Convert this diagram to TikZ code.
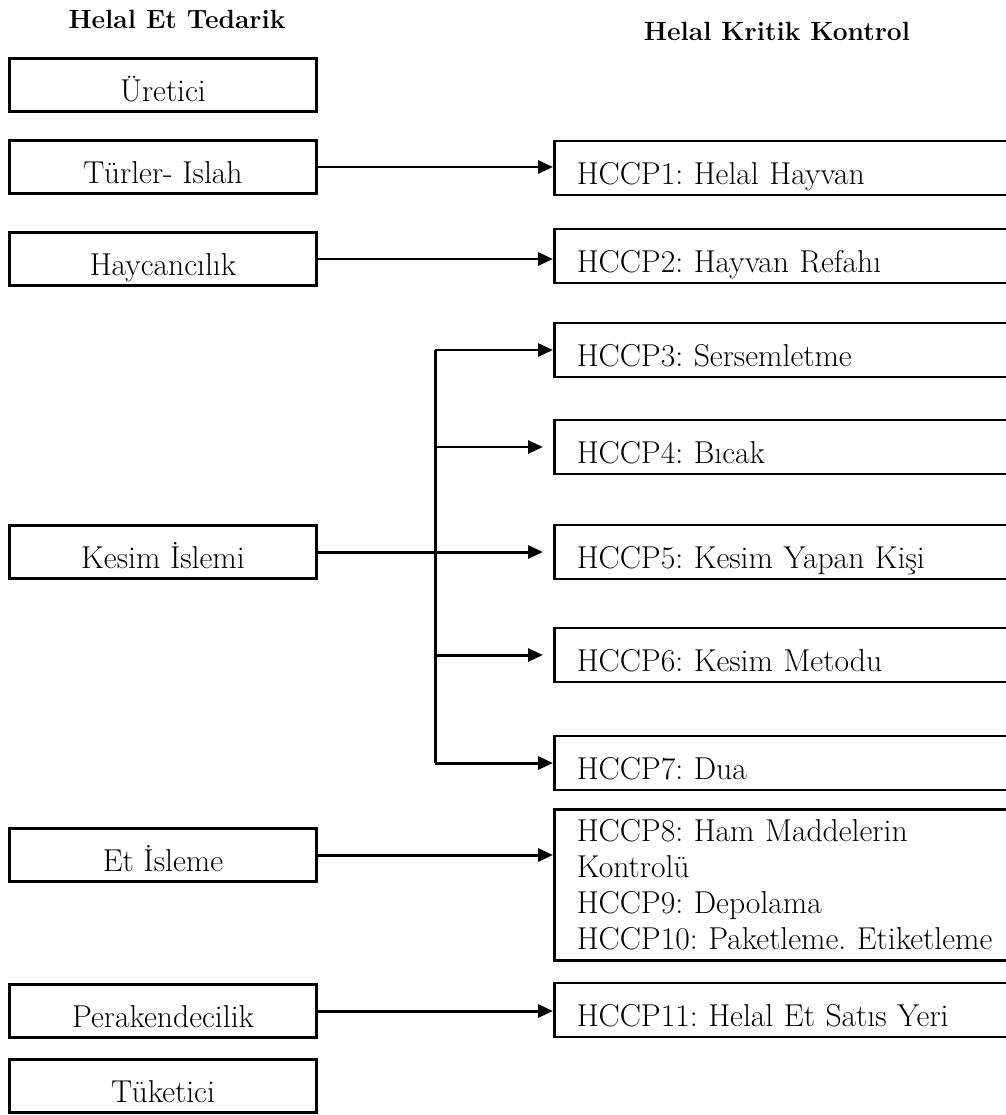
\documentclass[tikz,border=0pt]{standalone}
\usetikzlibrary{arrows.meta,positioning}
\begin{document}
\frenchspacing
\begin{tikzpicture}[x=0.02cm,y=-0.02cm,>={Triangle[length=0.3cm,width=0.26cm]},font=\fontsize{18}{20.5}\selectfont]
\tikzstyle{lb}=[draw,line width=1.5pt,minimum width=6.14cm,minimum height=1.07cm,inner sep=0pt]
\tikzstyle{rb}=[draw,line width=1.5pt,anchor=west,minimum width=10cm,minimum height=1.08cm,text width=9.1cm,align=left,inner xsep=0.44cm]
\tikzstyle{low}=[text height=19pt,text depth=0pt]
\tikzstyle{ar}=[->,line width=1.7pt]
\clip (0,0) rectangle (1006,1115);
% titles
\node[font=\fontsize{15}{18}\selectfont\bfseries] (ttl) at (177,19) {Helal Et Tedarik};
\node[font=\fontsize{15}{18}\selectfont\bfseries] (ttr) at (777,31) {Helal Kritik Kontrol};
% supply chain
\foreach \n/\y/\t in {uret/85/Üretici,turler/167/Türler- Islah,hayv/259/Haycancılık,kesim/552/Kesim İslemi,etis/855/Et İsleme,perak/1011/Perakendecilik,tuket/1086/Tüketici}
  \node[lb,low] (\n) at (163,\y) {\t};
% control points
\foreach \n/\y/\t in {h1/168/HCCP1: Helal Hayvan,h2/256/HCCP2: Hayvan Refahı,h3/350/HCCP3: Sersemletme,h4/447/HCCP4: Bıcak,h5/552/HCCP5: Kesim Yapan Kişi,h6/655/HCCP6: Kesim Metodu,h7/763/HCCP7: Dua,h11/1010/HCCP11: Helal Et Satıs Yeri}
  \node[rb,low] (\n) at (553,\y) {\t};
\node[rb,minimum height=3.02cm] (h8) at (553,885) {HCCP8: Ham Maddelerin\\Kontrolü\\HCCP9: Depolama\\HCCP10: Paketleme. Etiketleme};
% connectors
\foreach \a/\b in {turler/h1,hayv/h2,etis/h8,perak/h11}
  \draw[ar] (\a.east) -- (\a.east -| \b.west);
\coordinate (br) at (435,552);
\draw[line width=1.7pt] (kesim.east) -- (br);
\draw[line width=1.7pt] (br |- h3.west) -- (br |- h7.west);
\foreach \k/\s in {3/0,4/0.2,5/0.2,6/0.2,7/0}
  \draw[ar,shorten >=\s cm] (br |- h\k.west) -- (h\k.west);
\end{tikzpicture}
\end{document}
